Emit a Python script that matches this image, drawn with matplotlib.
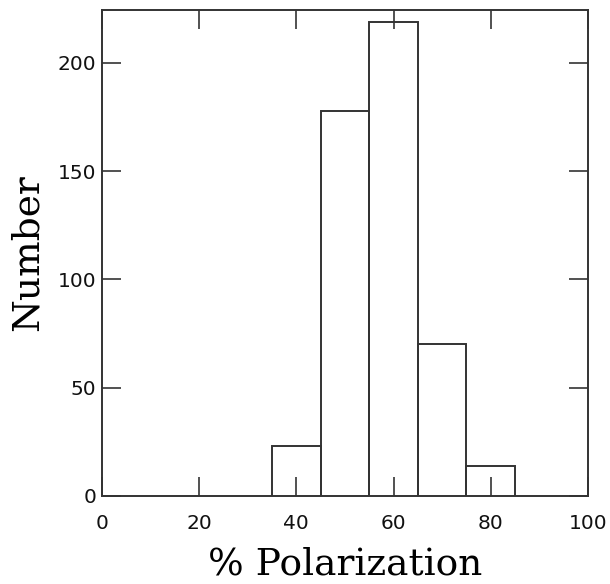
import numpy as np
import matplotlib.pyplot as plt

# histogram of percent polarization
binEdges = [35, 45, 55, 65, 75, 85]
counts = [23, 178, 219, 70, 14]
xTicks = [0, 20, 40, 60, 80, 100]
yTicks = [0, 50, 100, 150, 200]

lineColor = "#333333"

fig = plt.figure(figsize=(6.10, 5.84), dpi=100)
ax = fig.add_axes([0.167, 0.151, 0.797, 0.832])

# outline of each bin
for i in range(len(counts)):
    x0, x1 = binEdges[i], binEdges[i + 1]
    ax.plot([x0, x0, x1, x1], [0, counts[i], counts[i], 0],
            color=lineColor, lw=1.4, solid_joinstyle="miter")

ax.set_xlim(0, 100)
ax.set_ylim(0, 224.5)
ax.set_xticks(xTicks)
ax.set_yticks(yTicks)

for spine in ax.spines.values():
    spine.set_color(lineColor)
    spine.set_linewidth(1.4)

ax.tick_params(direction="in", length=14, width=1.2, color=lineColor,
               top=True, right=True, labelsize=14.5)
ax.tick_params(axis="x", pad=13)
ax.tick_params(axis="y", pad=4)
for lbl in ax.get_xticklabels() + ax.get_yticklabels():
    lbl.set_color("#111111")

ax.set_xlabel("% Polarization", family="DejaVu Serif", fontsize=27, labelpad=10)
ax.set_ylabel("Number", family="DejaVu Serif", fontsize=27, labelpad=9)

plt.savefig("out.png", dpi=100)
